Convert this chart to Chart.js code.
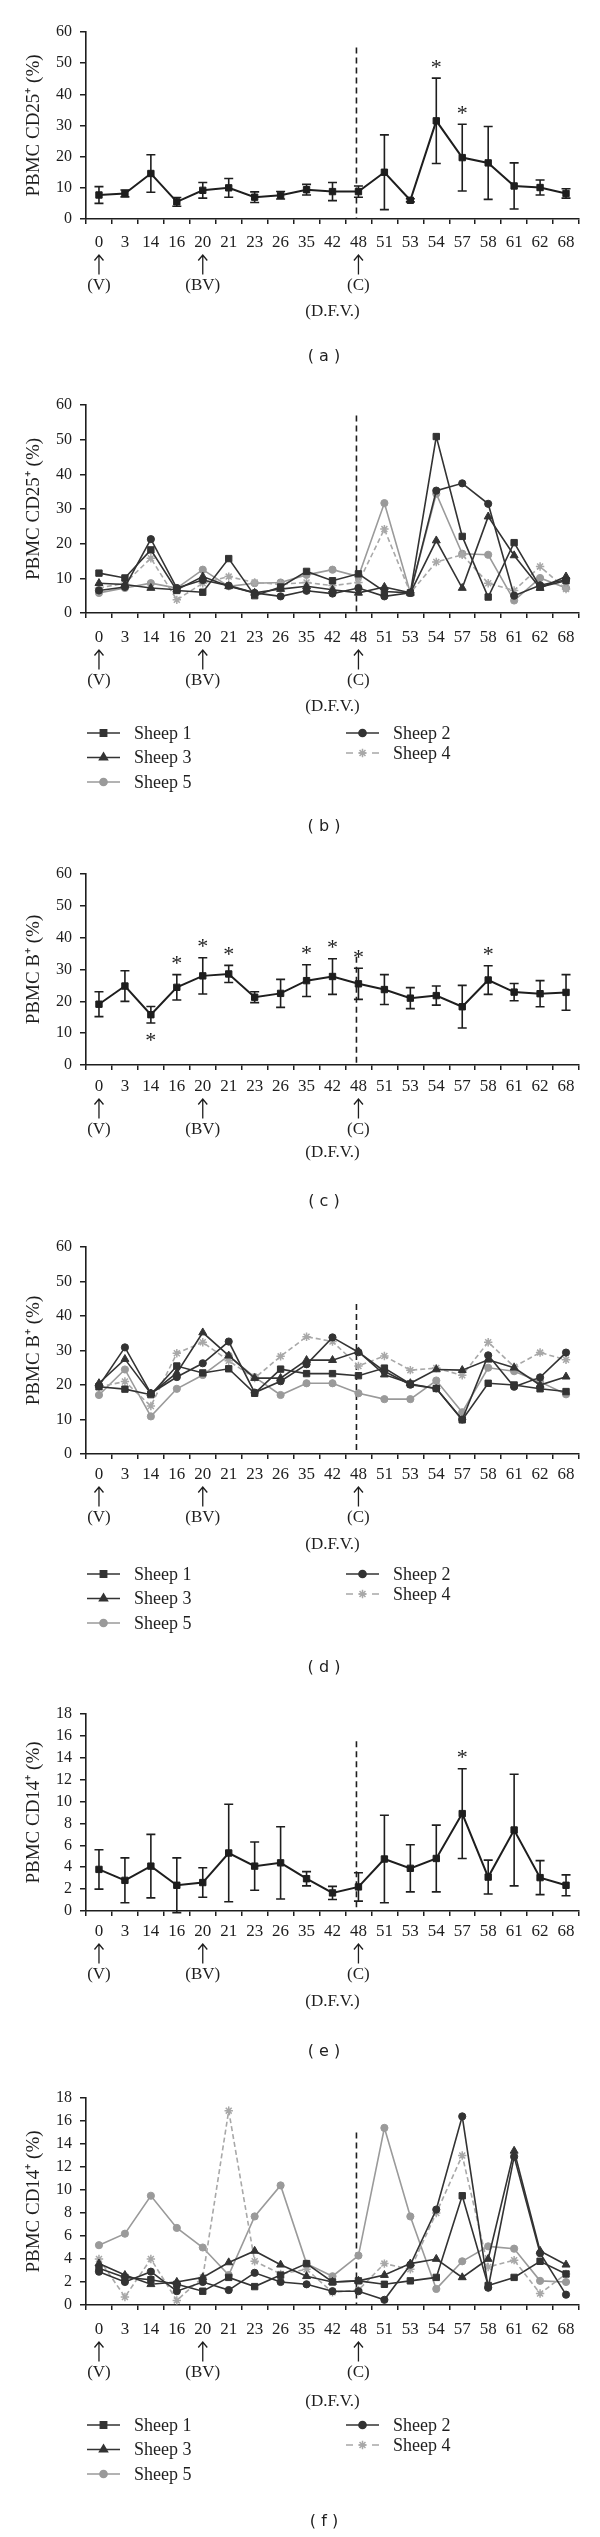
<!DOCTYPE html>
<html><head><meta charset="utf-8">
<script src="https://cdn.jsdelivr.net/npm/chart.js@4.4.1/dist/chart.umd.min.js"></script>
<style>
html,body{margin:0;padding:0;background:#fff;}
#wrap{position:relative;width:600px;height:2537px;background:#fff;}
#wrap canvas{position:absolute;left:0;}
</style></head>
<body><div id="wrap"></div>
<script>
// ---------- DATA ----------
const categories = ['0','3','14','16','20','21','23','26','35','42','48','51','53','54','57','58','61','62','68'];
const eventLabels = {'0':'(V)','20':'(BV)','48':'(C)'};
const challengeDay = '48';
const sheepNames = ['Sheep 1','Sheep 2','Sheep 3','Sheep 4','Sheep 5'];

// (a) PBMC CD25+ mean and error
const cd25Mean = [7.7, 8.2, 14.6, 5.5, 9.2, 10.0, 7.0, 7.6, 9.4, 8.8, 8.8, 15.0, 6.0, 31.5, 19.7, 18.0, 10.6, 10.1, 8.2];
const cd25Err  = [2.7, 1.1, 6.0, 1.4, 2.5, 3.0, 1.7, 1.2, 1.7, 2.9, 1.8, 12.0, 0.5, 13.7, 10.7, 11.7, 7.4, 2.4, 1.5];
const cd25SigUp = ['54','57'];
const cd25SigDown = [];

// (b) PBMC CD25+ per sheep
const cd25S1 = [11.5, 10.1, 18.2, 6.5, 6.0, 15.7, 5.0, 7.5, 12.0, 9.3, 11.3, 6.2, 5.8, 50.9, 22.1, 4.6, 20.3, 7.5, 9.3];
const cd25S2 = [6.5, 7.5, 21.3, 7.2, 9.5, 7.9, 5.8, 4.8, 6.4, 5.6, 7.2, 4.8, 5.8, 35.3, 37.4, 31.5, 5.0, 8.0, 9.6];
const cd25S3 = [8.6, 8.2, 7.2, 6.7, 10.5, 7.7, 5.8, 6.9, 7.7, 6.7, 5.8, 7.5, 5.8, 20.9, 7.2, 27.8, 16.6, 7.2, 10.5];
const cd25S4 = [7.2, 8.6, 15.8, 3.8, 8.6, 10.5, 8.8, 8.3, 8.8, 7.9, 8.8, 24.2, 5.8, 14.7, 16.8, 8.6, 6.5, 13.4, 6.9];
const cd25S5 = [5.8, 7.2, 8.6, 7.2, 12.5, 7.7, 8.6, 8.8, 11.0, 12.5, 10.5, 31.7, 5.8, 34.4, 17.1, 16.8, 3.6, 10.1, 7.2];

// (c) PBMC B+ mean and error
const bMean = [19.1, 24.8, 15.8, 24.4, 28.0, 28.6, 21.3, 22.5, 26.5, 27.8, 25.5, 23.7, 21.0, 21.8, 18.3, 26.7, 22.9, 22.4, 22.8];
const bErr  = [3.9, 4.8, 2.6, 4.0, 5.7, 2.7, 1.7, 4.4, 5.0, 5.6, 4.9, 4.7, 3.3, 3.0, 6.7, 4.5, 2.7, 4.1, 5.6];
const bSigUp = ['16','20','21','35','42','48','58'];
const bSigDown = ['14'];

// (d) PBMC B+ per sheep
const bS1 = [19.5, 18.8, 17.2, 25.5, 23.5, 24.7, 17.6, 24.6, 23.3, 23.3, 22.7, 24.9, 20.3, 19.0, 9.9, 20.5, 20.0, 18.9, 18.1];
const bS2 = [19.8, 30.9, 17.6, 22.3, 26.3, 32.6, 17.8, 21.1, 26.0, 33.8, 29.5, 24.0, 20.1, 19.0, 10.0, 28.6, 19.5, 22.2, 29.4];
const bS3 = [20.5, 27.5, 17.5, 23.5, 35.2, 28.5, 22.0, 22.0, 27.2, 27.2, 29.7, 23.0, 20.5, 24.5, 24.3, 27.3, 25.0, 20.0, 22.4];
const bS4 = [19.5, 21.0, 13.9, 29.2, 32.4, 27.0, 22.0, 28.3, 34.0, 32.6, 25.5, 28.4, 24.3, 24.9, 22.8, 32.4, 25.3, 29.4, 27.3];
const bS5 = [17.1, 24.5, 10.9, 18.9, 22.9, 28.5, 22.3, 17.1, 20.5, 20.5, 17.6, 15.9, 15.9, 21.3, 12.1, 25.0, 24.0, 20.9, 17.3];

// (e) PBMC CD14+ mean and error
const cd14Mean = [3.8, 2.8, 4.1, 2.35, 2.6, 5.3, 4.1, 4.4, 2.95, 1.65, 2.2, 4.75, 3.9, 4.8, 8.9, 3.1, 7.4, 3.05, 2.35];
const cd14Err  = [1.8, 2.05, 2.9, 2.5, 1.35, 4.45, 2.2, 3.3, 0.65, 0.6, 1.3, 4.0, 2.15, 3.05, 4.1, 1.55, 5.1, 1.55, 0.95];
const cd14SigUp = ['57'];
const cd14SigDown = [];

// (f) PBMC CD14+ per sheep
const cd14S1 = [3.2, 2.4, 2.2, 1.8, 1.2, 2.4, 1.6, 2.6, 3.6, 2.0, 2.1, 1.8, 2.1, 2.4, 9.5, 1.7, 2.4, 3.8, 2.7];
const cd14S2 = [2.9, 2.0, 2.9, 1.2, 2.0, 1.3, 2.8, 2.0, 1.8, 1.2, 1.2, 0.45, 3.5, 8.3, 16.4, 1.5, 12.9, 4.5, 0.9];
const cd14S3 = [3.6, 2.6, 1.8, 2.0, 2.4, 3.7, 4.7, 3.5, 2.5, 2.0, 2.1, 2.6, 3.6, 4.0, 2.4, 4.0, 13.4, 4.7, 3.5];
const cd14S4 = [4.0, 0.7, 4.0, 0.4, 2.4, 16.9, 3.8, 2.7, 3.1, 1.1, 1.3, 3.6, 3.1, 8.0, 13.0, 3.3, 3.9, 1.0, 2.7];
const cd14S5 = [5.2, 6.2, 9.5, 6.7, 5.0, 2.6, 7.7, 10.4, 3.6, 2.5, 4.3, 15.4, 7.7, 1.4, 3.8, 5.1, 4.9, 2.1, 2.0];

const yTicks60 = [0,10,20,30,40,50,60];
const yTicks18 = [0,2,4,6,8,10,12,14,16,18];

// ---------- STYLE / LAYOUT ----------
const SERIF = "'Liberation Serif','Times New Roman',serif";
const SANS = "'DejaVu Sans',Verdana,sans-serif";
const INK = '#1e1e1e';
const sheepStyles = [
  {color:'#333333', pointStyle:'rect', radius:4.5, dash:[]},
  {color:'#333333', pointStyle:'circle', radius:3.6, dash:[]},
  {color:'#333333', pointStyle:'triangle', radius:4.6, dash:[]},
  {color:'#a8a8a8', pointStyle:'star', radius:4.2, dash:[5,3]},
  {color:'#9a9a9a', pointStyle:'circle', radius:3.6, dash:[]}
];

const panels = [
  {id:'a', T:0,    H:372, plotTop:32,   plotBottom:219,  lblOff:24, dfvOff:93, labelY:357,  tag:'( a )', title:'PBMC CD25\u207A (%)', ticks:yTicks60, dashTop:55,
   mean:cd25Mean, err:cd25Err, sigUp:cd25SigUp, sigDown:cd25SigDown},
  {id:'b', T:372,  H:473, plotTop:405,  plotBottom:613,  lblOff:25, dfvOff:94, labelY:827,  tag:'( b )', title:'PBMC CD25\u207A (%)', ticks:yTicks60, dashTop:57,
   sheep:[cd25S1,cd25S2,cd25S3,cd25S4,cd25S5]},
  {id:'c', T:845,  H:375, plotTop:874,  plotBottom:1065, lblOff:22, dfvOff:88, labelY:1202, tag:'( c )', title:'PBMC B\u207A (%)', ticks:yTicks60, dashTop:34,
   mean:bMean, err:bErr, sigUp:bSigUp, sigDown:bSigDown},
  {id:'d', T:1220, H:470, plotTop:1247, plotBottom:1454, lblOff:21, dfvOff:91, labelY:1668, tag:'( d )', title:'PBMC B\u207A (%)', ticks:yTicks60, dashTop:43.5,
   sheep:[bS1,bS2,bS3,bS4,bS5]},
  {id:'e', T:1690, H:380, plotTop:1714, plotBottom:1911, lblOff:21, dfvOff:91, labelY:2052, tag:'( e )', title:'PBMC CD14\u207A (%)', ticks:yTicks18, dashTop:15.5,
   mean:cd14Mean, err:cd14Err, sigUp:cd14SigUp, sigDown:cd14SigDown},
  {id:'f', T:2070, H:467, plotTop:2098, plotBottom:2305, lblOff:25, dfvOff:97, labelY:2522, tag:'( f )', title:'PBMC CD14\u207A (%)', ticks:yTicks18, dashTop:15,
   sheep:[cd14S1,cd14S2,cd14S3,cd14S4,cd14S5]}
];

const AXIS_LEFT = 86, AXIS_RIGHT = 579;
const TICK_FONT = 17, TICK_LH = 1.265;
const DFV_FONT = 17, DFV_LH = 1.2;

// second line left empty: an arrow is drawn there pointing at the event day
const xLabels = categories.map(c => eventLabels[c] ? [c, '', eventLabels[c]] : c);

function drawMarker(ctx, st, x, y){
  ctx.save();
  ctx.fillStyle = st.color; ctx.strokeStyle = st.color; ctx.lineWidth = 1.5; ctx.setLineDash([]);
  if (Chart.helpers && Chart.helpers.drawPoint) {
    Chart.helpers.drawPoint(ctx, {pointStyle: st.pointStyle, radius: st.radius, rotation: 0, borderWidth: 1.5}, x, y);
  } else {
    ctx.beginPath(); ctx.arc(x, y, st.radius, 0, Math.PI*2); ctx.fill();
  }
  ctx.restore();
}

function makeAnnot(p){
  return {
    id: 'annot' + p.id,
    beforeDatasetsDraw(chart){
      const {ctx, chartArea: ca, scales: {x, y}} = chart;
      const xi = x.getPixelForValue(categories.indexOf(challengeDay)) - 2;
      ctx.save();
      ctx.strokeStyle = INK; ctx.lineWidth = 1.6; ctx.setLineDash([6,4]);
      ctx.beginPath(); ctx.moveTo(xi, y.getPixelForValue(p.dashTop)); ctx.lineTo(xi, ca.bottom); ctx.stroke();
      ctx.restore();
    },
    afterDatasetsDraw(chart){
      if (!p.mean) return;
      const {ctx, scales: {x, y}} = chart;
      ctx.save();
      ctx.strokeStyle = INK; ctx.lineWidth = 1.6; ctx.setLineDash([]);
      p.mean.forEach((m, i) => {
        const px = x.getPixelForValue(i);
        const yt = y.getPixelForValue(m + p.err[i]);
        const yb = y.getPixelForValue(m - p.err[i]);
        ctx.beginPath();
        ctx.moveTo(px, yt); ctx.lineTo(px, yb);
        ctx.moveTo(px - 4.5, yt); ctx.lineTo(px + 4.5, yt);
        ctx.moveTo(px - 4.5, yb); ctx.lineTo(px + 4.5, yb);
        ctx.stroke();
      });
      ctx.fillStyle = INK; ctx.font = '22px ' + SERIF; ctx.textAlign = 'center'; ctx.textBaseline = 'alphabetic';
      p.sigUp.forEach(c => {
        const i = categories.indexOf(c);
        ctx.fillText('*', x.getPixelForValue(i), y.getPixelForValue(p.mean[i] + p.err[i]) - 4.5);
      });
      p.sigDown.forEach(c => {
        const i = categories.indexOf(c);
        ctx.fillText('*', x.getPixelForValue(i), y.getPixelForValue(p.mean[i] - p.err[i]) + 24.5);
      });
      ctx.restore();
    },
    afterDraw(chart){
      const {ctx, chartArea: ca, scales: {x}} = chart;
      ctx.save();
      // event arrows under day 0, 20, 48
      const ay = ca.bottom + p.lblOff + TICK_FONT * TICK_LH;
      ctx.strokeStyle = INK; ctx.lineWidth = 1.3; ctx.setLineDash([]);
      Object.keys(eventLabels).forEach(c => {
        const ax = x.getPixelForValue(categories.indexOf(c));
        ctx.beginPath();
        ctx.moveTo(ax, ay - 9); ctx.lineTo(ax, ay + 10);
        ctx.moveTo(ax - 4.5, ay - 4); ctx.lineTo(ax, ay - 9.5); ctx.lineTo(ax + 4.5, ay - 4);
        ctx.stroke();
      });
      // panel tag
      ctx.fillStyle = INK; ctx.font = '16px ' + SANS; ctx.textAlign = 'center'; ctx.textBaseline = 'middle';
      ctx.fillText(p.tag, 324, p.labelY - p.T);
      // legend
      if (p.sheep) {
        const row1 = ca.bottom + 120;
        const pos = [
          {x0:87,  y:row1},        // Sheep 1
          {x0:346, y:row1},        // Sheep 2
          {x0:87,  y:row1 + 24.5}, // Sheep 3
          {x0:346, y:row1 + 20},   // Sheep 4
          {x0:87,  y:row1 + 49}    // Sheep 5
        ];
        sheepNames.forEach((name, i) => {
          const st = sheepStyles[i], q = pos[i];
          ctx.strokeStyle = st.color; ctx.lineWidth = 1.6;
          ctx.setLineDash(st.dash.length ? [7,6] : []);
          ctx.beginPath(); ctx.moveTo(q.x0, q.y); ctx.lineTo(q.x0 + 33, q.y); ctx.stroke();
          ctx.setLineDash([]);
          drawMarker(ctx, st, q.x0 + 16.5, q.y);
          ctx.fillStyle = INK; ctx.font = '18px ' + SERIF; ctx.textAlign = 'left'; ctx.textBaseline = 'middle';
          ctx.fillText(name, q.x0 + 47, q.y + 1);
        });
      }
      ctx.restore();
    }
  };
}

const wrap = document.getElementById('wrap');
panels.forEach(p => {
  const cv = document.createElement('canvas');
  cv.width = 600; cv.height = p.H;
  cv.style.top = p.T + 'px'; cv.style.width = '600px'; cv.style.height = p.H + 'px';
  wrap.appendChild(cv);

  const padTop = p.plotTop - p.T;
  const xH = p.dfvOff + DFV_FONT * DFV_LH / 2;
  const padBottom = p.H - (p.plotBottom - p.T) - xH;
  const tickPad = p.lblOff - 5 - TICK_FONT * TICK_LH / 2;
  const yMax = p.ticks[p.ticks.length - 1];
  const yStep = p.ticks[1] - p.ticks[0];

  let datasets;
  if (p.mean) {
    datasets = [{
      data: p.mean, borderColor: INK, backgroundColor: INK, borderWidth: 2,
      pointStyle: 'rect', pointRadius: 4.5, pointBackgroundColor: INK, pointBorderColor: INK, pointBorderWidth: 1,
      tension: 0
    }];
  } else {
    datasets = p.sheep.map((vals, i) => {
      const st = sheepStyles[i];
      return {
        label: sheepNames[i], data: vals, borderColor: st.color, backgroundColor: st.color, borderWidth: 1.6,
        borderDash: st.dash, pointStyle: st.pointStyle, pointRadius: st.radius,
        pointBackgroundColor: st.color, pointBorderColor: st.color, pointBorderWidth: st.pointStyle === 'star' ? 1.5 : 1,
        tension: 0
      };
    });
  }

  new Chart(cv, {
    type: 'line',
    data: {labels: xLabels, datasets},
    options: {
      responsive: false, animation: false, devicePixelRatio: 1,
      layout: {padding: {top: padTop, bottom: padBottom, left: 0, right: 600 - AXIS_RIGHT}},
      plugins: {legend: {display: false}, tooltip: {enabled: false}},
      scales: {
        x: {
          type: 'category', offset: true,
          grid: {offset: true, drawOnChartArea: false, drawTicks: true, tickLength: 5, color: INK, lineWidth: 1.5},
          border: {display: true, color: INK, width: 1.6},
          ticks: {color: INK, font: {family: SERIF, size: TICK_FONT, lineHeight: TICK_LH}, padding: tickPad, maxRotation: 0, autoSkip: false},
          title: {display: true, text: '(D.F.V.)', color: INK, font: {family: SERIF, size: DFV_FONT, lineHeight: DFV_LH}, padding: 0},
          afterFit: s => { s.height = xH; }
        },
        y: {
          min: 0, max: yMax,
          grid: {drawOnChartArea: false, drawTicks: true, tickLength: 6, color: INK, lineWidth: 1.5},
          border: {display: true, color: INK, width: 1.6},
          ticks: {stepSize: yStep, autoSkip: false, color: INK, font: {family: SERIF, size: 16}, padding: 8},
          title: {display: true, text: p.title, color: INK, font: {family: SERIF, size: 19, lineHeight: 1.2}, padding: {top: 22.6, bottom: 0}},
          afterFit: s => { s.width = AXIS_LEFT; }
        }
      }
    },
    plugins: [makeAnnot(p)]
  });
});
</script>
</body></html>
